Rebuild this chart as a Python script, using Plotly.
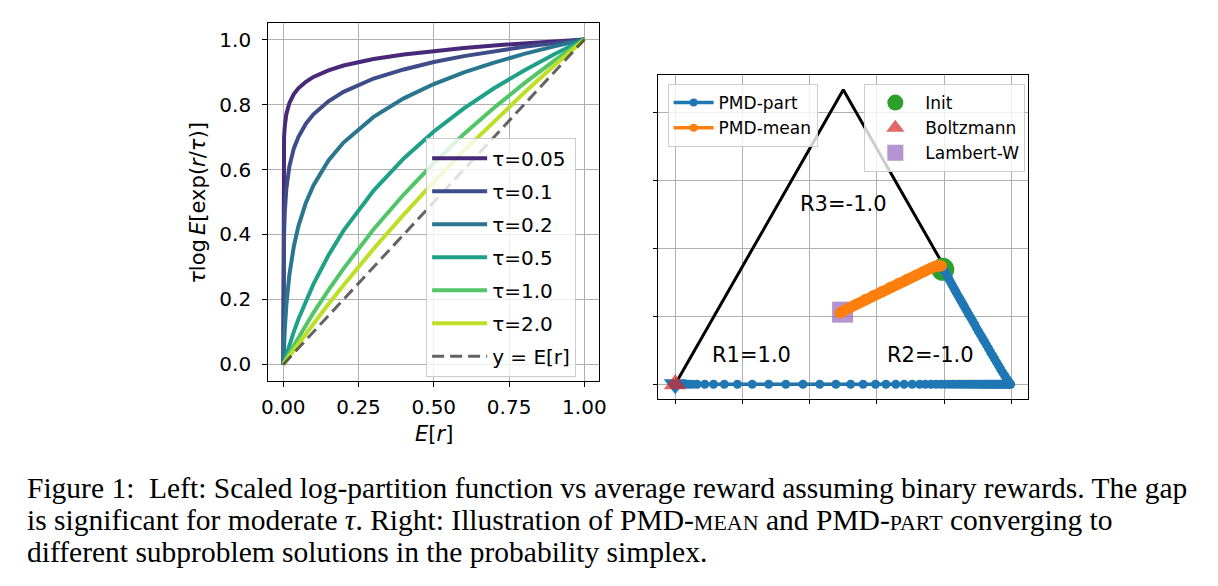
import plotly.graph_objects as go

W, H = 1218, 586

# ---------------- Left panel data ----------------
er_x = [0, 0.001, 0.0025, 0.005, 0.01, 0.02, 0.035, 0.05, 0.075, 0.1, 0.15, 0.2,
        0.3, 0.4, 0.5, 0.6, 0.7, 0.8, 0.9, 1.0]
tau_labels = ["τ=0.05", "τ=0.1", "τ=0.2", "τ=0.5", "τ=1.0", "τ=2.0"]
curve_tau005 = [0, 0.655, 0.700, 0.735, 0.770, 0.804, 0.832, 0.850, 0.870, 0.885, 0.905, 0.920,
                0.940, 0.954, 0.965, 0.974, 0.982, 0.989, 0.995, 1.0]
curve_tau01 = [0, 0.314, 0.403, 0.471, 0.540, 0.609, 0.665, 0.700, 0.741, 0.770, 0.810, 0.839,
               0.880, 0.908, 0.931, 0.949, 0.964, 0.978, 0.989, 1.0]
curve_tau02 = [0, 0.028, 0.063, 0.110, 0.181, 0.275, 0.364, 0.425, 0.498, 0.551, 0.628, 0.683,
               0.762, 0.819, 0.863, 0.899, 0.929, 0.956, 0.979, 1.0]
curve_tau05 = [0, 0.003, 0.008, 0.016, 0.031, 0.060, 0.101, 0.139, 0.196, 0.247, 0.336, 0.412,
               0.535, 0.634, 0.717, 0.788, 0.850, 0.905, 0.955, 1.0]
curve_tau10 = [0, 0.002, 0.004, 0.009, 0.017, 0.034, 0.058, 0.082, 0.121, 0.159, 0.229, 0.295,
               0.416, 0.523, 0.620, 0.709, 0.790, 0.865, 0.935, 1.0]
curve_tau20 = [0, 0.001, 0.003, 0.006, 0.013, 0.026, 0.045, 0.064, 0.095, 0.126, 0.186, 0.244,
               0.356, 0.461, 0.562, 0.658, 0.749, 0.836, 0.920, 1.0]
curves = [curve_tau005, curve_tau01, curve_tau02, curve_tau05, curve_tau10, curve_tau20]
curve_colors = ["#482878", "#3e4c8a", "#2a768e", "#1fa088", "#52c569", "#bddf26"]
diag_x = [0, 1]
diag_y = [0, 1]

left_xticks = [0, 0.25, 0.5, 0.75, 1.0]
left_xticktext = ["0.00", "0.25", "0.50", "0.75", "1.00"]
left_yticks = [0, 0.2, 0.4, 0.6, 0.8, 1.0]
left_yticktext = ["0.0", "0.2", "0.4", "0.6", "0.8", "1.0"]

# ---------------- Right panel data ----------------
simplex_x = [0, 1, 0.5, 0]
simplex_y = [0, 0, 0.866, 0]

# PMD-part trajectory: down the right edge, then along the bottom edge
part_edge_x = [0.798, 0.802, 0.806, 0.811, 0.815, 0.820, 0.825, 0.830, 0.835, 0.840, 0.846,
               0.851, 0.857, 0.862, 0.868, 0.873, 0.879, 0.885, 0.891, 0.896, 0.902, 0.908,
               0.914, 0.920, 0.926, 0.932, 0.938, 0.944, 0.950, 0.956, 0.962, 0.968, 0.974,
               0.980, 0.985, 0.990, 0.993, 0.996, 0.998]
part_edge_y = [0.341, 0.333, 0.325, 0.317, 0.308, 0.299, 0.290, 0.281, 0.272, 0.263, 0.253,
               0.244, 0.234, 0.225, 0.215, 0.206, 0.196, 0.186, 0.176, 0.166, 0.156, 0.146,
               0.136, 0.126, 0.116, 0.106, 0.095, 0.085, 0.075, 0.065, 0.055, 0.045, 0.035,
               0.026, 0.018, 0.011, 0.006, 0.002, 0.0]
part_bottom_x = [0.995, 0.991, 0.987, 0.983, 0.978, 0.974, 0.969, 0.964, 0.959, 0.954, 0.949,
                 0.944, 0.939, 0.933, 0.927, 0.921, 0.915, 0.909, 0.902, 0.895, 0.888, 0.880,
                 0.872, 0.864, 0.855, 0.846, 0.836, 0.826, 0.815, 0.803, 0.790, 0.776, 0.761,
                 0.744, 0.727, 0.705, 0.681, 0.656, 0.627, 0.596, 0.559, 0.522, 0.478, 0.430,
                 0.380, 0.329, 0.278, 0.229, 0.185, 0.146, 0.114, 0.088, 0.065, 0.052, 0.041,
                 0.030, 0.021, 0.014, 0.008, 0.004, 0.0]
part_bottom_y = [0.0] * len(part_bottom_x)
part_x = part_edge_x + part_bottom_x
part_y = part_edge_y + part_bottom_y

mean_x = [0.792, 0.784, 0.775, 0.760, 0.740, 0.715, 0.690, 0.665, 0.640, 0.615, 0.590, 0.565,
          0.540, 0.515, 0.490]
mean_y = [0.348, 0.350, 0.347, 0.341, 0.332, 0.320, 0.309, 0.297, 0.285, 0.273, 0.261, 0.249,
          0.236, 0.223, 0.210]

init_pt = (0.796, 0.338)
boltz_pt = (0.0, 0.0)
lambert_pt = (0.498, 0.212)
part_end_pt = (0.0, 0.0)

region_labels = ["R1=1.0", "R2=-1.0", "R3=-1.0"]
region_x = [0.226, 0.759, 0.5]
region_y = [0.087, 0.087, 0.531]

grid_vals = [0, 0.2, 0.4, 0.6, 0.8, 1.0]

FONT = "DejaVu Sans"

fig = go.Figure()

# left curves
for lab, ys, col in zip(tau_labels, curves, curve_colors):
    fig.add_trace(go.Scatter(x=er_x, y=ys, mode="lines", name=lab,
                             line=dict(color=col, width=4), xaxis="x", yaxis="y",
                             legend="legend", legendgroup=lab))
fig.add_trace(go.Scatter(x=diag_x, y=diag_y, mode="lines", name="y = E[r]",
                         line=dict(color="rgba(60,60,60,0.8)", width=3, dash="12px,6px"),
                         xaxis="x", yaxis="y", legend="legend", legendgroup="diag"))

# right panel
fig.add_trace(go.Scatter(x=simplex_x, y=simplex_y, mode="lines", showlegend=False,
                         line=dict(color="black", width=3), xaxis="x2", yaxis="y2"))
fig.add_trace(go.Scatter(x=[init_pt[0]], y=[init_pt[1]], mode="markers", name="Init",
                         marker=dict(color="#2ca02c", size=23, symbol="circle"),
                         xaxis="x2", yaxis="y2", legend="legend3", legendrank=1))
fig.add_trace(go.Scatter(x=[lambert_pt[0]], y=[lambert_pt[1]], mode="markers", name="Lambert-W",
                         marker=dict(color="rgba(148,103,189,0.7)", size=21, symbol="square"),
                         xaxis="x2", yaxis="y2", legend="legend3", legendrank=3))
fig.add_trace(go.Scatter(x=part_x, y=part_y, mode="lines+markers", showlegend=False,
                         line=dict(color="#1f77b4", width=3),
                         marker=dict(color="#1f77b4", size=9),
                         xaxis="x2", yaxis="y2"))
fig.add_trace(go.Scatter(x=mean_x, y=mean_y, mode="lines+markers", showlegend=False,
                         line=dict(color="#ff7f0e", width=11),
                         marker=dict(color="#ff7f0e", size=11),
                         xaxis="x2", yaxis="y2"))
fig.add_trace(go.Scatter(x=[part_end_pt[0]], y=[part_end_pt[1]], mode="markers", showlegend=False,
                         marker=dict(color="#1f77b4", size=20, symbol="triangle-down"),
                         xaxis="x2", yaxis="y2"))
fig.add_trace(go.Scatter(x=[boltz_pt[0]], y=[boltz_pt[1]], mode="markers", name="Boltzmann",
                         marker=dict(color="rgba(214,39,40,0.7)", size=20, symbol="triangle-up"),
                         xaxis="x2", yaxis="y2", legend="legend3", legendrank=2))
# legend-only entries for the two trajectories
fig.add_trace(go.Scatter(x=[None], y=[None], mode="lines+markers", name="PMD-part",
                         line=dict(color="#1f77b4", width=3.5), marker=dict(color="#1f77b4", size=8),
                         xaxis="x2", yaxis="y2", legend="legend2", legendrank=1))
fig.add_trace(go.Scatter(x=[None], y=[None], mode="lines+markers", name="PMD-mean",
                         line=dict(color="#ff7f0e", width=3.5), marker=dict(color="#ff7f0e", size=8),
                         xaxis="x2", yaxis="y2", legend="legend2", legendrank=2))

# region text
for t, x, y in zip(region_labels, region_x, region_y):
    fig.add_annotation(x=x, y=y, xref="x2", yref="y2", text=t, showarrow=False,
                       font=dict(family=FONT, size=21, color="black"),
                       xanchor="center", yanchor="middle")

axis_common = dict(showline=True, mirror=True, linecolor="black", linewidth=1.3,
                   showgrid=True, gridcolor="#b0b0b0", gridwidth=1.2, zeroline=False,
                   ticks="outside", ticklen=5, tickwidth=1.3, tickcolor="black")

fig.update_layout(
    width=W, height=H,
    margin=dict(l=0, r=0, t=0, b=0),
    paper_bgcolor="white", plot_bgcolor="white",
    font=dict(family=FONT, color="black"),
    xaxis=dict(domain=[264.3 / W, 599.3 / W], range=[-0.05, 1.05], anchor="y",
               tickvals=left_xticks, ticktext=left_xticktext,
               tickfont=dict(size=20), ticklabelstandoff=3, **axis_common),
    yaxis=dict(domain=[1 - 380.7 / H, 1 - 23.3 / H], range=[-0.05, 1.05], anchor="x",
               tickvals=left_yticks, ticktext=left_yticktext,
               tickfont=dict(size=20), ticklabelstandoff=7, **axis_common),
    xaxis2=dict(domain=[659 / W, 1033 / W], range=[-0.05, 1.05], anchor="y2",
                tickvals=grid_vals, showticklabels=False,
                **{**axis_common, "ticklen": 4}),
    yaxis2=dict(domain=[1 - 399 / H, 1 - 75 / H], range=[-0.0433, 0.9093], anchor="x2",
                tickvals=grid_vals, showticklabels=False,
                **{**axis_common, "ticklen": 4}),
    legend=dict(x=424 / W, y=1 - 137.7 / H, xanchor="left", yanchor="top",
                bgcolor="rgba(255,255,255,0.8)", bordercolor="#cccccc", borderwidth=1,
                font=dict(family=FONT, size=20), tracegroupgap=4, itemwidth=55),
    legend2=dict(x=668.3 / W, y=1 - 84 / H, xanchor="left", yanchor="top",
                 bgcolor="rgba(255,255,255,0.8)", bordercolor="#cccccc", borderwidth=1,
                 font=dict(family=FONT, size=17), itemwidth=40),
    legend3=dict(x=867.3 / W, y=1 - 84 / H, xanchor="left", yanchor="top",
                 bgcolor="rgba(255,255,255,0.8)", bordercolor="#cccccc", borderwidth=1,
                 font=dict(family=FONT, size=17), itemwidth=50),
)

# axis titles (left panel)
fig.add_annotation(x=431.8 / W, y=1 - 434 / H, xref="paper", yref="paper",
                   text="<i>E</i>[<i>r</i>]", showarrow=False,
                   font=dict(family=FONT, size=21), xanchor="center", yanchor="middle")
fig.add_annotation(x=193 / W, y=1 - 203 / H, xref="paper", yref="paper",
                   text="<i>τ</i>log\u2009<i>E</i>[exp(<i>r</i>/<i>τ</i>)]", showarrow=False,
                   textangle=-90, font=dict(family=FONT, size=21),
                   xanchor="center", yanchor="middle")

# caption
SERIF = "Liberation Serif"
sc = "<span style='font-size:22px'>"
caption_lines = [
    "Figure 1:\u00a0 Left: Scaled log-partition function vs average reward assuming binary rewards. The gap",
    "is significant for moderate <i>τ</i>. Right: Illustration of PMD-" + sc + "MEAN</span> and PMD-" + sc
    + "PART</span> converging to",
    "different subproblem solutions in the probability simplex.",
]
caption_y = [488, 520, 552]
for line, yy in zip(caption_lines, caption_y):
    fig.add_annotation(x=18 / W, y=1 - yy / H, xref="paper", yref="paper", text=line,
                       showarrow=False, xanchor="left", yanchor="middle",
                       font=dict(family=SERIF, size=29.5, color="black"))

fig.write_html("out.html")
